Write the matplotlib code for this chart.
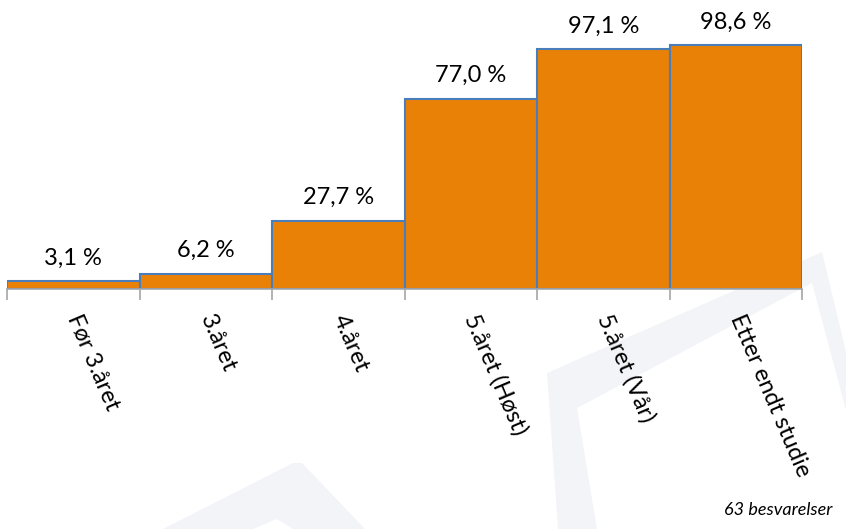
import matplotlib
matplotlib.use("Agg")
import matplotlib.pyplot as plt
import numpy as np
from matplotlib.patches import Polygon

categories = ["Før 3.året", "3.året", "4.året", "5.året (Høst)", "5.året (Vår)", "Etter endt studie"]
values = [3.1, 6.2, 27.7, 77.0, 97.1, 98.6]
value_labels = ["3,1 %", "6,2 %", "27,7 %", "77,0 %", "97,1 %", "98,6 %"]
note = "63 besvarelser"

plt.rcParams["font.family"] = ["Lato", "DejaVu Sans"]

W, H = 846, 529
fig = plt.figure(figsize=(W / 100, H / 100), dpi=100)


# faint watermark shapes in the background (pixel coords -> figure fraction)
def px(points):
    return [(x / W, 1 - y / H) for x, y in points]


shape_color = "#F3F4F8"
for outer, inner in [
    ([(163, 529), (293, 463), (302, 463), (365, 529)],
     [(253, 529), (277, 519), (293, 529)]),
    ([(558, 529), (547, 373), (822, 252), (846, 352), (846, 529)],
     [(597, 529), (577, 408), (812, 283), (846, 410), (846, 529)]),
]:
    fig.patches.append(Polygon(px(outer), closed=True, transform=fig.transFigure,
                               facecolor=shape_color, edgecolor="none", zorder=-2))
    fig.patches.append(Polygon(px(inner), closed=True, transform=fig.transFigure,
                               facecolor="white", edgecolor="none", zorder=-1))

ax = fig.add_axes([7 / W, 1 - 289 / H, (802 - 7) / W, (289 - 17) / H])
ax.patch.set_alpha(0)

x = np.arange(len(categories))
bars = ax.bar(x, values, width=1.0, color="#EA8107", edgecolor="#4A7EBB", linewidth=1.5, zorder=2)

for xi, v, lab in zip(x, values, value_labels):
    ax.annotate(lab, (xi, v), xytext=(0, 9), textcoords="offset points",
                ha="center", va="bottom", fontsize=17, color="black")

ax.set_xlim(-0.5, len(categories) - 0.5)
ax.set_ylim(0, 110)

for s in ["top", "right", "left"]:
    ax.spines[s].set_visible(False)
ax.spines["bottom"].set_color("#A6A6A6")
ax.spines["bottom"].set_linewidth(1.2)
ax.set_yticks([])

# tick marks at category boundaries, labels at category centres
ax.set_xticks(np.arange(-0.5, len(categories), 1.0))
ax.set_xticklabels([])
ax.tick_params(axis="x", which="major", length=8, width=1.2, color="#A6A6A6")
ax.set_xticks(x, minor=True)
ax.set_xticklabels(categories, minor=True, rotation=-67, ha="left",
                   va="center", rotation_mode="anchor", fontsize=17)
ax.tick_params(axis="x", which="minor", length=0, pad=19)

fig.text(832 / W, 1 - 510 / H, note, ha="right", va="center",
         fontsize=13, style="italic", color="black")

fig.savefig("out.png", dpi=100)
